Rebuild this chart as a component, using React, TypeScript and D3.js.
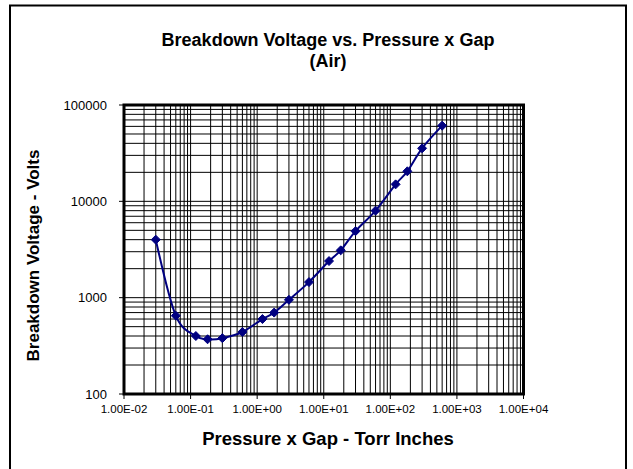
import React, { useEffect, useRef } from "react";
import * as d3 from "d3";

const pressureGap = [0.03, 0.06, 0.12, 0.18, 0.3, 0.6, 1.2, 1.8, 3, 6, 12, 18, 30, 60, 120, 180, 300, 600];
const voltage = [4000, 650, 400, 370, 380, 440, 600, 700, 950, 1450, 2400, 3100, 4900, 8000, 15000, 20500, 35500, 61000];
const xTicks = [1e-2, 1e-1, 1e0, 1e1, 1e2, 1e3, 1e4];
const xTickLabels = ["1.00E-02", "1.00E-01", "1.00E+00", "1.00E+01", "1.00E+02", "1.00E+03", "1.00E+04"];
const yTicks = [100, 1000, 10000, 100000];
const yTickLabels = ["100", "1000", "10000", "100000"];
const title1 = "Breakdown Voltage vs. Pressure x Gap";
const title2 = "(Air)";
const xTitle = "Pressure x Gap - Torr Inches";
const yTitle = "Breakdown Voltage - Volts";

const W = 633;
const H = 469;
const L = 124, R = 523.5, T = 105, B = 394;
const FONT = "'Liberation Sans', Arial, sans-serif";
const NAVY = "#000080";

export default function App() {
  const ref = useRef<SVGSVGElement | null>(null);

  useEffect(() => {
    const svg = d3.select(ref.current);
    svg.selectAll("*").remove();

    const x = d3.scaleLog().domain([1e-2, 1e4]).range([L, R]);
    const y = d3.scaleLog().domain([100, 100000]).range([B, T]);

    svg.append("rect").attr("x", 0).attr("y", 0).attr("width", W).attr("height", H).attr("fill", "#fff");
    svg.append("rect").attr("x", 10).attr("y", 5.5).attr("width", 616).attr("height", 480)
      .attr("fill", "none").attr("stroke", "#000").attr("stroke-width", 2);

    const xGrid: number[] = [];
    for (let e = -2; e < 4; e++) for (let m = 1; m <= 9; m++) xGrid.push(m * Math.pow(10, e));
    const yGrid: number[] = [];
    for (let e = 2; e < 5; e++) for (let m = 1; m <= 9; m++) yGrid.push(m * Math.pow(10, e));

    const g = svg.append("g");
    g.selectAll("line.vx").data(xGrid).enter().append("line")
      .attr("x1", (d) => x(d)).attr("x2", (d) => x(d)).attr("y1", T).attr("y2", B)
      .attr("stroke", "#000").attr("stroke-width", 1);
    g.selectAll("line.hy").data(yGrid).enter().append("line")
      .attr("y1", (d) => y(d)).attr("y2", (d) => y(d)).attr("x1", L).attr("x2", R)
      .attr("stroke", "#000").attr("stroke-width", 1);

    svg.append("rect").attr("x", L).attr("y", T).attr("width", R - L).attr("height", B - T)
      .attr("fill", "none").attr("stroke", "#000").attr("stroke-width", 3);

    svg.selectAll("line.yt").data(yTicks).enter().append("line")
      .attr("x1", L - 5).attr("x2", L).attr("y1", (d) => y(d)).attr("y2", (d) => y(d))
      .attr("stroke", "#000").attr("stroke-width", 1);
    svg.selectAll("text.yl").data(yTicks).enter().append("text")
      .attr("x", 107).attr("y", (d) => y(d)).attr("dy", "0.36em")
      .attr("text-anchor", "end").attr("font-family", FONT).attr("font-size", 13)
      .attr("fill", "#000").text((_, i) => yTickLabels[i]);

    svg.selectAll("line.xt").data(xTicks).enter().append("line")
      .attr("x1", (d) => x(d)).attr("x2", (d) => x(d)).attr("y1", B).attr("y2", B + 5)
      .attr("stroke", "#000").attr("stroke-width", 1);
    svg.selectAll("text.xl").data(xTicks).enter().append("text")
      .attr("x", (d) => x(d)).attr("y", 413)
      .attr("text-anchor", "middle").attr("font-family", FONT).attr("font-size", 11.5)
      .attr("fill", "#000").text((_, i) => xTickLabels[i]);

    const pts = pressureGap.map((p, i) => [x(p), y(voltage[i])] as [number, number]);
    const line = d3.line().curve(d3.curveCatmullRom.alpha(0));
    svg.append("path").attr("d", line(pts) || "").attr("fill", "none")
      .attr("stroke", NAVY).attr("stroke-width", 2);

    const dsize = 4.5;
    svg.selectAll("path.mk").data(pts).enter().append("path")
      .attr("d", (d) => `M${d[0]},${d[1] - dsize}L${d[0] + dsize},${d[1]}L${d[0]},${d[1] + dsize}L${d[0] - dsize},${d[1]}Z`)
      .attr("fill", NAVY).attr("stroke", NAVY).attr("stroke-width", 1);

    svg.append("text").attr("x", 328).attr("y", 46).attr("text-anchor", "middle")
      .attr("font-family", FONT).attr("font-weight", "bold").attr("font-size", 18).text(title1);
    svg.append("text").attr("x", 328).attr("y", 67).attr("text-anchor", "middle")
      .attr("font-family", FONT).attr("font-weight", "bold").attr("font-size", 18).text(title2);
    svg.append("text").attr("x", 328).attr("y", 445).attr("text-anchor", "middle")
      .attr("font-family", FONT).attr("font-weight", "bold").attr("font-size", 18.5).text(xTitle);
    svg.append("text").attr("transform", `translate(39,${(T + B) / 2 + 6}) rotate(-90)`)
      .attr("text-anchor", "middle")
      .attr("font-family", FONT).attr("font-weight", "bold").attr("font-size", 17).text(yTitle);
  }, []);

  return (
    <svg ref={ref} width={W} height={H} style={{ position: "absolute", left: 0, top: 0 }} />
  );
}
